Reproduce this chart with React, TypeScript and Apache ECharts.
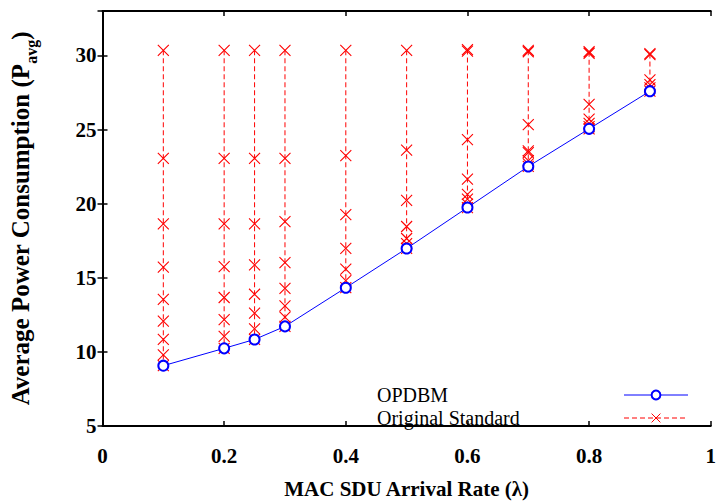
import React, { useEffect, useRef } from "react";
import * as echarts from "echarts";

const X_VALUES = [0.1, 0.2, 0.25, 0.3, 0.4, 0.5, 0.6, 0.7, 0.8, 0.9];
const OPDBM = [9.07, 10.24, 10.84, 11.72, 14.33, 16.98, 19.74, 22.51, 25.05, 27.59];
const ORIGINAL = [
  [30.35, 23.06, 18.64, 15.72, 13.55, 12.08, 10.84, 9.8, 9.07],
  [30.35, 23.06, 18.64, 15.76, 13.67, 12.18, 11.05, 10.24],
  [30.35, 23.06, 18.64, 15.87, 13.89, 12.61, 11.56, 10.84],
  [30.35, 23.06, 18.79, 16.03, 14.28, 13.11, 12.34, 11.72],
  [30.35, 23.24, 19.26, 16.98, 15.59, 14.81, 14.33],
  [30.35, 23.61, 20.23, 18.46, 17.65, 17.31, 16.98],
  [30.4, 30.3, 24.32, 21.66, 20.63, 20.3, 19.97, 19.74],
  [30.35, 30.25, 25.34, 23.57, 23.45, 22.9, 22.69, 22.51],
  [30.25, 30.15, 26.7, 25.71, 25.42, 25.2, 25.05],
  [30.13, 30.05, 28.36, 28.03, 27.81, 27.59],
];
const X_TICKS = [0, 0.2, 0.4, 0.6, 0.8, 1];
const Y_TICKS = [5, 10, 15, 20, 25, 30];

const FONT = "Liberation Serif";
const CROSS = "path://M0,0L10,10M10,0L0,10";

export default function App() {
  const ref = useRef<HTMLDivElement>(null);
  useEffect(() => {
    if (!ref.current) return;
    const chart = echarts.init(ref.current, undefined, { renderer: "svg" });
    const axisLine = { show: true, lineStyle: { color: "#000", width: 2 } };
    const tick = { show: true, inside: true, length: 5, lineStyle: { color: "#000", width: 1.5 } };
    const origSeries = ORIGINAL.map((col, i) => ({
      type: "line",
      name: "Original Standard",
      data: col.map((y) => [X_VALUES[i], y]),
      symbol: CROSS,
      symbolSize: 11,
      lineStyle: { color: "#ff0000", width: 1, type: [5, 3] },
      itemStyle: { color: "#ff0000", borderColor: "#ff0000", borderWidth: 1.1 },
      z: 2,
    }));
    chart.setOption({
      animation: false,
      grid: { left: 102, right: 8, top: 11, bottom: 71 },
      legend: {
        orient: "vertical",
        left: 372,
        top: 380,
        align: "right",
        itemWidth: 64,
        itemHeight: 11,
        itemGap: 3,
        data: ["OPDBM", "Original Standard"],
        lineStyle: { width: 1 },
        itemStyle: { borderWidth: 1 },
        formatter: (name: string) => `{t|${name}}`,
        textStyle: {
          fontFamily: FONT,
          fontSize: 20,
          fontWeight: "normal",
          color: "#000",
          rich: {
            t: { width: 242, align: "left", lineHeight: 21, fontFamily: FONT, fontSize: 20, fontWeight: "normal", color: "#000" },
          },
        },
      },
      xAxis: [
        {
          type: "value",
          min: X_TICKS[0],
          max: X_TICKS[X_TICKS.length - 1],
          interval: 0.2,
          position: "bottom",
          axisLine,
          axisTick: tick,
          splitLine: { show: false },
          axisLabel: {
            fontFamily: FONT,
            fontSize: 21,
            fontWeight: "bold",
            color: "#000",
            margin: 19,
            formatter: (v: number) => String(parseFloat(v.toFixed(2))),
          },
          name: "MAC SDU Arrival Rate (λ)",
          nameLocation: "middle",
          nameGap: 52,
          nameTextStyle: { fontFamily: FONT, fontSize: 21, fontWeight: "bold", color: "#000" },
        },
        {
          type: "value",
          min: X_TICKS[0],
          max: X_TICKS[X_TICKS.length - 1],
          interval: 0.2,
          position: "top",
          axisLine,
          axisTick: tick,
          axisLabel: { show: false },
          splitLine: { show: false },
        },
      ],
      yAxis: [
        {
          type: "value",
          min: Y_TICKS[0],
          max: 33,
          interval: 5,
          position: "left",
          axisLine,
          axisTick: tick,
          splitLine: { show: false },
          axisLabel: {
            fontFamily: FONT,
            fontSize: 21,
            fontWeight: "bold",
            color: "#000",
            margin: 6,
            formatter: (v: number) => (Y_TICKS.includes(v) ? String(v) : ""),
          },
          name: "{a|Average Power Consumption (P}{s|avg}{a|)}",
          nameLocation: "middle",
          nameGap: 63,
          nameTextStyle: {
            fontFamily: FONT,
            fontSize: 25,
            fontWeight: "bold",
            color: "#000",
            rich: {
              a: { fontFamily: FONT, fontSize: 25, fontWeight: "bold", color: "#000", lineHeight: 26, verticalAlign: "middle" },
              s: { fontFamily: FONT, fontSize: 16, fontWeight: "bold", color: "#000", lineHeight: 38, verticalAlign: "bottom" },
            },
          },
        },
        {
          type: "value",
          min: Y_TICKS[0],
          max: 33,
          interval: 5,
          position: "right",
          axisLine,
          axisTick: tick,
          axisLabel: { show: false },
          splitLine: { show: false },
        },
      ],
      series: [
        ...origSeries,
        {
          type: "line",
          name: "OPDBM",
          data: X_VALUES.map((x, i) => [x, OPDBM[i]]),
          symbol: "emptyCircle",
          symbolSize: 10,
          lineStyle: { color: "#0000ff", width: 1 },
          itemStyle: { color: "#0000ff", borderColor: "#0000ff", borderWidth: 1 },
          z: 3,
        },
      ],
    });
    return () => chart.dispose();
  }, []);
  return <div ref={ref} style={{ width: 719, height: 504, position: "fixed", left: 0, top: 0, background: "#fff" }} />;
}
